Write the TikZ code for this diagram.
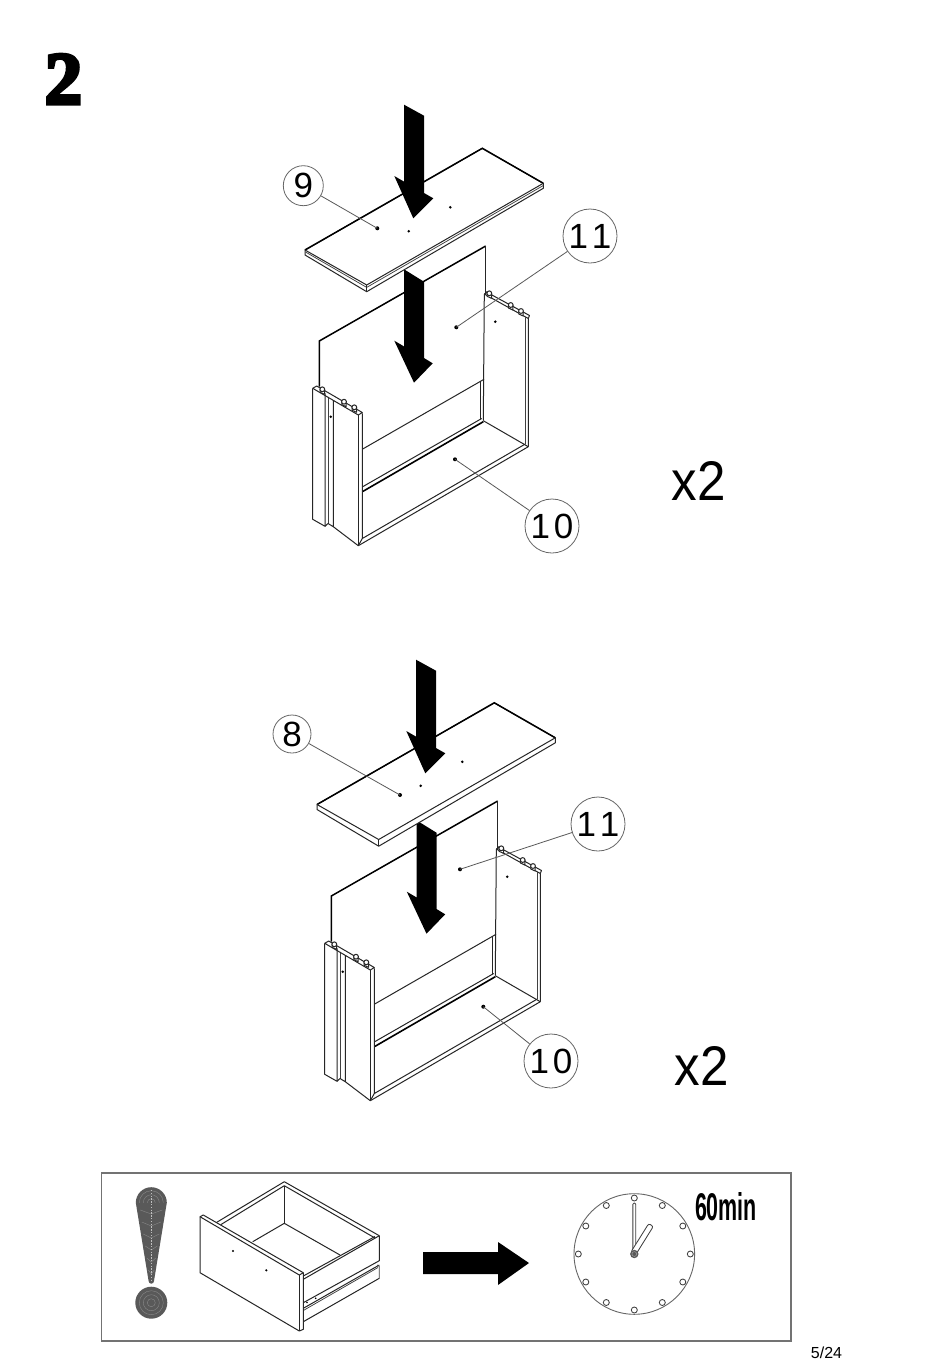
\documentclass[tikz,border=0pt]{standalone}
\usepackage{fontspec}
\usetikzlibrary{calc}
\setmainfont{Liberation Sans}
\newfontfamily\stepfont[FakeBold=4.5]{Liberation Serif Bold}
\tikzset{
  ln/.style={line width=1pt,black!85,line join=round},
  thk/.style={line width=1.5pt,black},
  thn/.style={line width=0.75pt,black!75},
  leader/.style={line width=0.8pt,black!65},
  holedot/.style={fill=black},
  callout/.style={circle,draw=black!60,line width=0.8pt,fill=white,inner sep=0pt,minimum size=#1,font=\fontsize{35}{37}\selectfont},
  callout/.default=54pt,
  blk/.style={fill=black,draw=none},
}
\newcommand{\twoeleven}{1\kern4pt 1}
\newcommand{\oneten}{1\kern4pt 0}
\newcommand{\timestwo}{\resizebox{54pt}{39pt}{x2}}
\newcommand{\drawerbody}{%
  % back panel
  \draw[thk] (319.3,386.7) -- (319.3,341) -- (485.7,246);
  \draw[ln] (485.7,246) -- (485.7,294);
  \draw[ln] (362.7,449) -- (484,379.3);
  \draw[ln] (480,381.7) -- (480,419.3);
  \draw[ln] (484.3,294) -- (483.3,420.7);
  % right side
  \draw[ln] (484.3,294) -- (528.3,318.5) -- (528.3,446.7);
  \draw[thn] (525.3,316.5) -- (525.3,444);
  \draw[ln] (487,292.5) -- (484.3,294);
  \draw[ln] (485.5,291.5) -- (529.5,315.5) -- (528.3,318.5);
  % bottom panel
  \draw[ln] (483.3,420.7) -- (528.3,446.7) -- (358.3,545.7);
  \draw[ln] (362.3,538.5) -- (525.3,444);
  \draw[ln] (362.7,486.7) -- (481.7,418.5);
  \draw[line width=1.6pt] (362.7,491.5) -- (483.3,421.7);
  % left side
  \draw[ln] (312.7,388.3) -- (312.7,519.3) -- (325,526.3) -- (325,393.3);
  \draw[thn] (328,396.7) -- (328,523.5);
  \draw[ln] (325,526.3) -- (328,523.5) -- (333.3,526.7) -- (333.3,400);
  \draw[ln] (333.3,526.7) -- (358.3,545.7);
  \draw[ln] (358.3,415) -- (358.3,545.7);
  \draw[ln] (362.3,413.3) -- (362.3,538.5) -- (358.3,545.7);
  \draw[ln] (312.7,388.3) -- (316.7,386) -- (362.3,412.5) -- (358.3,415) -- (312.7,388.3);
  % pegs
  \foreach \p/\q in {322.3/389.3,344/401.7,354.3/407.3,489.3/293.3,510.7/305,521/311}{
    \draw[ln,fill=white] (\p-2.2,\q) -- (\p-2.2,\q+3) -- (\p+2.2,\q+5) -- (\p+2.2,\q);
    \draw[ln,fill=white] (\p,\q) circle[radius=2.4pt];
  }
  \fill[holedot] (330.7,416.7) circle[radius=1.4pt];
  \fill[holedot] (495.3,321.7) circle[radius=1.4pt];
}
\newcommand{\topboardA}{%
  \draw[ln,fill=white] (305,250) -- (482.3,148.3) -- (543.3,183.3) -- (543.3,188.3) -- (366.7,291.7) -- (305,255) -- cycle;
  \draw[thk] (305,250) -- (482.3,148.3) -- (543.3,183.3);
  \draw[ln] (305,250) -- (366.7,285) -- (543.3,183.3);
  \draw[thn] (305.5,252) -- (366.7,287.4) -- (543.3,185.5);
  \draw[ln] (366.7,285) -- (366.7,291.7);
}
\newcommand{\topboardB}{%
  \draw[ln,fill=white] (305,250) -- (482.3,148.3) -- (543.3,183.3) -- (543.3,188.3) -- (366.7,291.7) -- (305,255) -- cycle;
  \draw[thk] (305,250) -- (482.3,148.3) -- (543.3,183.3);
  \draw[ln] (305,250) -- (366.7,285) -- (543.3,183.3);
  \draw[ln] (366.7,285) -- (366.7,291.7);
}
\newcommand{\boardholes}{%
  \fill[holedot] (408.7,231.3) circle[radius=1.4pt];
  \fill[holedot] (450.3,207.3) circle[radius=1.4pt];
}
\newcommand{\upperarrow}{%
  \fill[blk] (404,104.7) -- (424,115.7) -- (424,193) -- (433.3,198.3) -- (413.3,218.3) -- (394.3,176) -- (404,181.6) -- cycle;
}
\newcommand{\lowerarrow}{%
  \fill[blk] (404,269.3) -- (424,281.7) -- (424,358) -- (432.7,363.3) -- (414,382.7) -- (394.3,340.7) -- (404,346.4) -- cycle;
}
\begin{document}
\begin{tikzpicture}[x=1pt,y=-1pt]
\useasboundingbox (0,0) rectangle (950,1360);
\fill[white] (0,0) rectangle (950,1360);

\node[inner sep=0pt,anchor=base] (stepnum) at (63.5,104) {\stepfont\fontsize{75}{78}\selectfont 2};

% ---------- first assembly
\drawerbody
\lowerarrow
\topboardA
\boardholes
\upperarrow
\coordinate (d9) at (377.3,228.3);
\coordinate (d11a) at (456.3,327.3);
\coordinate (d10a) at (455,459.3);
\fill[holedot] (d9) circle[radius=2pt];
\fill[holedot] (d11a) circle[radius=2pt];
\fill[holedot] (d10a) circle[radius=2pt];
\node[callout=40pt] (n9) at (303.3,185.7) {9};
\node[callout] (n11a) at (590,236) {\twoeleven};
\node[callout] (n10a) at (552,526) {\oneten};
\draw[leader] (n9) -- (d9);
\draw[leader] (n11a) -- (d11a);
\draw[leader] (n10a) -- (d10a);
\node[inner sep=0pt] (x2a) at (698.5,481) {\timestwo};

% ---------- second assembly
\begin{scope}[shift={(12,555)}]
  \drawerbody
\end{scope}
\begin{scope}[shift={(12.5,551)}]
  \lowerarrow
\end{scope}
\begin{scope}[shift={(12,554.5)}]
  \topboardB
  \boardholes
\end{scope}
\begin{scope}[shift={(12,555)}]
  \upperarrow
\end{scope}
\coordinate (d8) at (400,795);
\coordinate (d11b) at (460,869.3);
\coordinate (d10b) at (483.3,1006.7);
\fill[holedot] (d8) circle[radius=2pt];
\fill[holedot] (d11b) circle[radius=2pt];
\fill[holedot] (d10b) circle[radius=2pt];
\node[callout=38pt] (n8) at (292,734) {8};
\node[callout] (n11b) at (598,824) {\twoeleven};
\node[callout] (n10b) at (551,1061) {\oneten};
\draw[leader] (n8) -- (d8);
\draw[leader] (n11b) -- (d11b);
\draw[leader] (n10b) -- (d10b);
\node[inner sep=0pt] (x2b) at (701.5,1066) {\timestwo};

% ---------- note frame
\draw[line width=1.1pt,black!55] (101.7,1173) rectangle (791,1341);

% exclamation mark
\fill[black!65] (135.8,1202.7) arc[start angle=180,end angle=0,radius=15.5pt] -- (154,1281) arc[start angle=0,end angle=-180,radius=2.7pt] -- cycle;
\foreach \r in {4,8,12}{\draw[black!45,line width=0.35pt] (151.3-\r,1202.7) arc[start angle=180,end angle=0,radius=\r pt];}
\foreach \w/\q in {11/1210,9.5/1222,8/1234,6/1246,4.5/1258,3/1270}{
  \draw[black!45,line width=0.35pt] (151.3-\w,\q) -- (151.3,\q+4) -- (151.3+\w,\q);
}
\draw[white!75!black,line width=0.6pt,dash pattern=on 1.4pt off 1.4pt] (151.3,1190) -- (151.3,1280);
\fill[black!65] (151.3,1302.7) circle[radius=16pt];
\foreach \r in {4,8,12}{\draw[black!45,line width=0.35pt] (151.3,1302.7) circle[radius=\r pt];}

% drawer
\draw[ln] (216.7,1222.3) -- (284.3,1181.7) -- (379.3,1235.7);
\draw[ln] (220.7,1224.7) -- (284.3,1185.7) -- (375,1238);
\draw[ln] (284.3,1185.7) -- (284.3,1223.3);
\draw[ln] (252.7,1241.7) -- (284.3,1223.3) -- (340,1255);
\draw[ln] (379.3,1235.7) -- (379.3,1260.7) -- (303.3,1302.7);
\draw[ln] (379.3,1235.7) -- (303.3,1279.3);
\draw[ln] (375,1236.5) -- (303.3,1276);
\draw[ln] (379.3,1265) -- (303.3,1308.3);
\draw[thn] (378,1267.5) -- (303.3,1310.5);
\draw[thn] (377,1265) -- (379.3,1266.3) -- (379.3,1278.3);
\draw[ln] (379.3,1278.3) -- (303.3,1321.7);
\fill[holedot] (307,1302.5) circle[radius=0.9pt];
\fill[holedot] (315.7,1298.3) circle[radius=0.9pt];
\draw[ln,fill=white] (200,1216.7) -- (203.3,1215) -- (303.3,1272.7) -- (303.3,1329.3) -- (299.3,1331) -- (200,1272.7) -- cycle;
\draw[ln] (200,1216.7) -- (299.3,1275) -- (303.3,1272.7);
\draw[ln] (299.3,1275) -- (299.3,1331);
\fill[holedot] (233,1251) circle[radius=1.2pt];
\fill[holedot] (266.3,1270.3) circle[radius=1.2pt];

% big arrow
\fill[blk] (423,1252) -- (498,1252) -- (498,1242) -- (529,1263) -- (498,1285) -- (498,1274) -- (423,1274) -- cycle;

% clock
\draw[line width=0.9pt,black!60] (634.3,1254) circle[radius=60.3pt];
\foreach \a in {0,30,...,330}{
  \draw[line width=0.85pt,black!75,fill=white] ($(634.3,1254)+(\a:56pt)$) circle[radius=3pt];
}
\draw[line width=0.85pt,black!75,fill=white,rounded corners=1.2pt] (632.9,1254) -- (632.9,1203) -- (635.7,1203) -- (635.7,1254) -- cycle;
\draw[line width=0.85pt,black!75,fill=white,rounded corners=2pt] (630.9,1252) -- (648.7,1223.6) -- (653.3,1226.4) -- (635.5,1255) -- cycle;
\fill[black!65] (634.3,1254) circle[radius=4.2pt];
\draw[white!70!black,line width=0.35pt] (634.3,1254) circle[radius=2.4pt];
\node[inner sep=0pt] (mins) at (726,1207) {\resizebox{62pt}{28pt}{\bfseries 60min}};

\node[inner sep=0pt] (pageno) at (826.5,1353) {\fontsize{16}{18}\selectfont 5/24};
\end{tikzpicture}
\end{document}
